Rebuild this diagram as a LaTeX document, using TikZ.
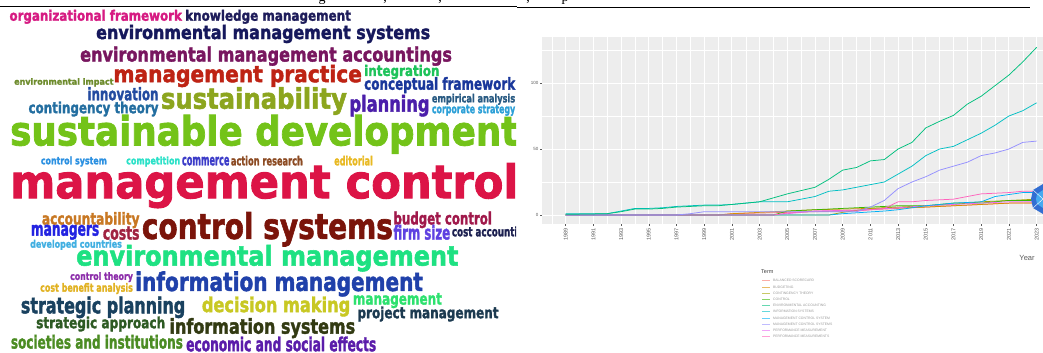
\documentclass[tikz,border=0pt]{standalone}
\usepackage{fontspec}
\usepackage{graphicx}
\usepackage{tikz}
\setmainfont{Liberation Serif}
\setsansfont{Liberation Sans}
\newfontfamily\cloudfont{DejaVu Sans}[BoldFeatures={FakeBold=2}]
\newfontfamily\papfont{Liberation Serif}
\newcommand{\wfit}[3]{\resizebox*{#1pt}{#2pt}{#3}}
% word cloud colours
\definecolor{ofw}{RGB}{214,26,130}
\definecolor{kmg}{RGB}{30,28,90}
\definecolor{ems}{RGB}{22,24,92}
\definecolor{ema}{RGB}{120,22,95}
\definecolor{mpr}{RGB}{190,35,20}
\definecolor{itg}{RGB}{30,195,90}
\definecolor{eim}{RGB}{110,140,45}
\definecolor{cfw}{RGB}{25,55,155}
\definecolor{inn}{RGB}{35,75,160}
\definecolor{sus}{RGB}{140,165,30}
\definecolor{pln}{RGB}{75,30,170}
\definecolor{ean}{RGB}{40,90,130}
\definecolor{cth}{RGB}{35,110,160}
\definecolor{cst}{RGB}{45,160,215}
\definecolor{sdv}{RGB}{115,195,25}
\definecolor{csy}{RGB}{45,145,225}
\definecolor{cmp}{RGB}{45,225,200}
\definecolor{cmc}{RGB}{60,60,200}
\definecolor{acr}{RGB}{140,75,35}
\definecolor{edt}{RGB}{232,185,35}
\definecolor{mct}{RGB}{220,20,70}
\definecolor{acc}{RGB}{200,120,35}
\definecolor{mgr}{RGB}{35,35,225}
\definecolor{cos}{RGB}{160,35,65}
\definecolor{ctl}{RGB}{122,20,10}
\definecolor{bdc}{RGB}{160,25,75}
\definecolor{fsz}{RGB}{95,65,225}
\definecolor{cac}{RGB}{28,32,80}
\definecolor{dvc}{RGB}{65,175,225}
\definecolor{emg}{RGB}{30,225,130}
\definecolor{ctt}{RGB}{140,45,170}
\definecolor{img}{RGB}{32,65,170}
\definecolor{cba}{RGB}{225,178,35}
\definecolor{spl}{RGB}{25,65,95}
\definecolor{dmk}{RGB}{200,200,35}
\definecolor{mgm}{RGB}{45,225,110}
\definecolor{pmg}{RGB}{28,58,80}
\definecolor{sap}{RGB}{45,90,35}
\definecolor{isy}{RGB}{50,58,18}
\definecolor{soc}{RGB}{75,140,35}
\definecolor{ecs}{RGB}{90,28,170}
% chart colours
\definecolor{panel}{RGB}{237,237,237}
\definecolor{axt}{RGB}{90,90,90}
\definecolor{lA}{RGB}{248,118,109}
\definecolor{lB}{RGB}{216,144,0}
\definecolor{lC}{RGB}{163,165,0}
\definecolor{lD}{RGB}{57,182,0}
\definecolor{lE}{RGB}{0,191,125}
\definecolor{lF}{RGB}{0,191,196}
\definecolor{lG}{RGB}{0,176,246}
\definecolor{lH}{RGB}{149,144,255}
\definecolor{lI}{RGB}{231,107,243}
\definecolor{lJ}{RGB}{255,98,188}
\definecolor{hexa}{RGB}{50,110,210}
\definecolor{hexb}{RGB}{70,170,240}

\begin{document}
\begin{tikzpicture}[x=1pt, y=-1pt,
  word/.style={inner sep=0pt, anchor=south west, font=\cloudfont\bfseries},
  frag/.style={inner sep=0pt, anchor=base, font=\papfont\fontsize{14}{16}\selectfont},
  gridmaj/.style={white, line width=0.9pt},
  gridmin/.style={white, line width=0.45pt},
  series/.style={line width=0.75pt, line join=round},
  ticklab/.style={inner sep=0pt, text=axt, font=\sffamily\fontsize{4.5}{5}\selectfont},
  keyline/.style={line width=0.8pt}]
\useasboundingbox (0,0) rectangle (1043,353);

% cut text line and rules at the top
\begin{scope}
\clip (0,0) rectangle (1043,5.4);
\node (f1) [frag] at (322,1.8) {g};
\node (f2) [frag] at (385,1.8) {,};
\node (f3) [frag] at (440,1.8) {,};
\node (f4) [frag] at (528,1.8) {,};
\node (f5) [frag] at (565,1.8) {p};
\end{scope}
\draw [line width=1pt] (0,6.5) -- (517,6.5);
\draw [line width=1.6pt] (517,7.5) -- (1030,7.5);

% word cloud
\begin{scope}
\clip (0,8) rectangle (516,353);
\node (orgfw) [word, text=ofw] at (9.3,24) {\wfit{172.4}{14}{organizational framework}};
\node (knowmg) [word, text=kmg] at (185,24) {\wfit{165.7}{14}{knowledge management}};
\node (envms) [word, text=ems] at (96,43.3) {\wfit{334}{18.3}{environmental management systems}};
\node (envma) [word, text=ema] at (80,66) {\wfit{371.7}{19.3}{environmental management accountings}};
\node (mgmtpr) [word, text=mpr] at (113.3,87.3) {\wfit{248.4}{22.3}{management practice}};
\node (integ) [word, text=itg] at (364,79.3) {\wfit{75.3}{14.3}{integration}};
\node (envimp) [word, text=eim] at (14,86.7) {\wfit{99.3}{8.4}{environmental impact}};
\node (concfw) [word, text=cfw] at (364,93.3) {\wfit{151}{16}{conceptual framework}};
\node (innov) [word, text=inn] at (87.3,100.7) {\wfit{71}{13.4}{innovation}};
\node (sustain) [word, text=sus] at (160.7,115) {\wfit{186}{27.7}{sustainability}};
\node (plan) [word, text=pln] at (349.3,116.7) {\wfit{80}{21.7}{planning}};
\node (empan) [word, text=ean] at (431.7,105) {\wfit{83.3}{11}{empirical analysis}};
\node (contth) [word, text=cth] at (28.3,116.7) {\wfit{130}{15}{contingency theory}};
\node (corpst) [word, text=cst] at (431.7,116) {\wfit{83.3}{11}{corporate strategy}};
\node (susdev) [word, text=sdv] at (10,154) {\wfit{508}{39}{sustainable development}};
\node (ctrlsy) [word, text=csy] at (40.7,166.7) {\wfit{66}{10}{control system}};
\node (compet) [word, text=cmp] at (126,166.7) {\wfit{54}{10}{competition}};
\node (commer) [word, text=cmc] at (181.7,165.7) {\wfit{47.6}{8.7}{commerce}};
\node (actres) [word, text=acr] at (230.7,165.7) {\wfit{72}{9.7}{action research}};
\node (editor) [word, text=edt] at (334,165.7) {\wfit{38.7}{9.7}{editorial}};
\node (mgmtct) [word, text=mct] at (10,208.3) {\wfit{508}{45}{management control}};
\node (accnt) [word, text=acc] at (41.7,228.3) {\wfit{97.6}{16}{accountability}};
\node (mgrs) [word, text=mgr] at (30.7,240) {\wfit{68.3}{15}{managers}};
\node (costs) [word, text=cos] at (102.7,240) {\wfit{36.6}{13.3}{costs}};
\node (ctrlss) [word, text=ctl] at (141.7,246.7) {\wfit{251}{34.4}{control systems}};
\node (budget) [word, text=bdc] at (393.3,228.3) {\wfit{98.4}{16.6}{budget control}};
\node (firmsz) [word, text=fsz] at (393.3,240) {\wfit{56.7}{15}{firm size}};
\node (costac) [word, text=cac] at (451.7,239.3) {\wfit{78}{12.6}{cost accounting}};
\node (devctr) [word, text=dvc] at (30,250) {\wfit{91.7}{10}{developed countries}};
\node (envmg) [word, text=emg] at (76,271.7) {\wfit{382.3}{26.7}{environmental management}};
\node (ctrlth) [word, text=ctt] at (70,282.3) {\wfit{62.7}{10}{control theory}};
\node (infomg) [word, text=img] at (135,296.7) {\wfit{287.7}{25}{information management}};
\node (cbana) [word, text=cba] at (40,294.3) {\wfit{92.7}{11}{cost benefit analysis}};
\node (strpl) [word, text=spl] at (20.7,318.3) {\wfit{164.3}{21.6}{strategic planning}};
\node (decmk) [word, text=dmk] at (201.7,316.7) {\wfit{148.3}{20}{decision making}};
\node (mgmt) [word, text=mgm] at (352.7,308.3) {\wfit{89}{15}{management}};
\node (projmg) [word, text=pmg] at (357.3,321.7) {\wfit{141}{15}{project management}};
\node (strapp) [word, text=sap] at (36,331.7) {\wfit{129}{15}{strategic approach}};
\node (infosy) [word, text=isy] at (169.3,338.3) {\wfit{185.7}{20}{information systems}};
\node (socins) [word, text=soc] at (10.7,349) {\wfit{172}{14}{societies and institutions}};
\node (econsc) [word, text=ecs] at (186,351.7) {\wfit{190}{15}{economic and social effects}};
\end{scope}

% term frequency chart
\begin{scope}[shift={(565.7,215)}, x=13.85pt, y=1.32pt]
\fill [panel] (-1.71,-6.8) rectangle (34.6,134.8);
\foreach \v in {25,75,125}
  \draw [gridmin] (-1.71,\v) -- (34.6,\v);
\foreach \t in {-1,1,...,33}
  \draw [gridmin] (\t,-6.8) -- (\t,134.8);
\foreach \v in {0,50,100}
  \draw [gridmaj] (-1.71,\v) -- (34.6,\v);
\foreach \t in {0,2,...,34}
  \draw [gridmaj] (\t,-6.8) -- (\t,134.8);
\foreach \v in {0,50,100}{
  \draw [axt, line width=0.5pt] (-1.71,\v) -- ++(-2.5pt,0pt);
  \node (yl\v) [ticklab, anchor=east] at ([xshift=-3.5pt]-1.71,\v) {\v};
}
\foreach \t in {0,2,...,34}{
  \pgfmathtruncatemacro\yr{1989+\t}
  \draw [axt, line width=0.5pt] (\t,-6.8) -- ++(0pt,-2.5pt);
  \node (xl\t) [ticklab, rotate=90, anchor=east, font=\sffamily\fontsize{5.5}{6}\selectfont] at ([yshift=-4pt]\t,-6.8) {\yr};
}
\begin{scope}
\clip (-1.71,-6.8) rectangle (34.6,134.8);
\draw [series, lA] plot coordinates {(0,0) (11,0) (12,1) (16,2) (20,3) (24,5) (28,7) (32,9) (34,9)};
\draw [series, lB] plot coordinates {(0,0) (11,0) (12,1) (18,4) (22,5) (26,6) (28,7) (30,8) (32,9) (34,9)};
\draw [series, lC] plot coordinates {(0,0) (19,0) (20,2) (22,5) (26,7) (28,8) (30,10) (32,11) (34,12)};
\draw [series, lD] plot coordinates {(0,0) (15,0) (16,3) (20,5) (24,7) (26,7) (28,9) (30,9) (32,11) (34,11)};
\draw [series, lI] plot coordinates {(0,0) (15,0) (16,1) (18,3) (22,4) (26,7) (30,9) (32,10) (34,10)};
\draw [series, lG] plot coordinates {(0,0) (19,0) (20,1) (23,3) (24,4) (26,7) (28,9) (30,10) (31,14) (33,17) (34,17)};
\draw [series, lJ] plot coordinates {(0,0) (15,0) (16,1.5) (18,3) (21,3) (23,5) (24,10) (25,10) (26,11) (28,12) (30,16) (32,17) (33,18) (34,18)};
\draw [series, lH] plot coordinates {(0,0) (8,0) (9,1) (10,2.5) (21,2.5) (22,6) (23,11) (24,20) (25,25) (26,29) (27,34) (28,37) (29,40) (30,45) (31,47) (32,50) (33,55) (34,56)};
\draw [series, lF] plot coordinates {(0,1) (3,1) (4,3) (5,5) (6,5) (7,5.5) (8,6.5) (9,7) (10,7.5) (11,7.5) (12,8) (13,9) (14,10) (15,10) (16,10) (17,12) (18,14) (19,18) (20,19) (21,21) (22,23) (23,25) (24,31) (25,37) (26,45) (27,50) (28,52) (29,57) (30,62) (31,68) (32,75) (33,79) (34,85)};
\draw [series, lE] plot coordinates {(0,0.5) (3,1) (4,2.5) (5,4.5) (6,4.5) (7,5) (8,6) (9,6.5) (10,7) (11,7) (12,8) (13,9) (14,10) (15,13) (16,16) (17,18.5) (18,21) (19,27) (20,34) (21,36) (22,41) (23,42) (24,50) (25,55) (26,66) (27,71) (28,75.5) (29,84) (30,90) (31,98) (32,106) (33,116) (34,127)};
\end{scope}
\end{scope}

% marker at the right edge
\fill [hexa] (1043,184) -- (1033,190) -- (1031,199) -- (1033,208) -- (1043,214) -- cycle;
\fill [hexb] (1043,190) -- (1037,194) -- (1036,199) -- (1037,204) -- (1043,208) -- cycle;
\draw [white, line width=0.4pt] (1033,190) -- (1043,199) -- (1033,208);

\node (ytitle) [inner sep=0pt, text=axt, font=\sffamily\fontsize{7.5}{8}\selectfont] at (1027,258) {Year};

% legend
\node (lgtitle) [inner sep=0pt, anchor=west, text=black!75, font=\sffamily\fontsize{5.5}{6}\selectfont] at (761,272) {Term};
\foreach \c/\term [count=\i] in {lA/BALANCED SCORECARD, lB/BUDGETING, lC/CONTINGENCY THEORY, lD/CONTROL, lE/ENVIRONMENTAL ACCOUNTING, lF/INFORMATION SYSTEMS, lG/MANAGEMENT CONTROL SYSTEM, lH/MANAGEMENT CONTROL SYSTEMS, lI/PERFORMANCE MEASUREMENT, lJ/PERFORMANCE MEASUREMENTS}{
  \draw [keyline, \c!60] (762,274.5+6.22*\i) -- (769.5,274.5+6.22*\i);
  \node (lg\i) [inner sep=0pt, anchor=west, text=gray!80, font=\sffamily\fontsize{3.4}{4}\selectfont] at (773,274.5+6.22*\i) {\term};
}
\end{tikzpicture}
\end{document}
